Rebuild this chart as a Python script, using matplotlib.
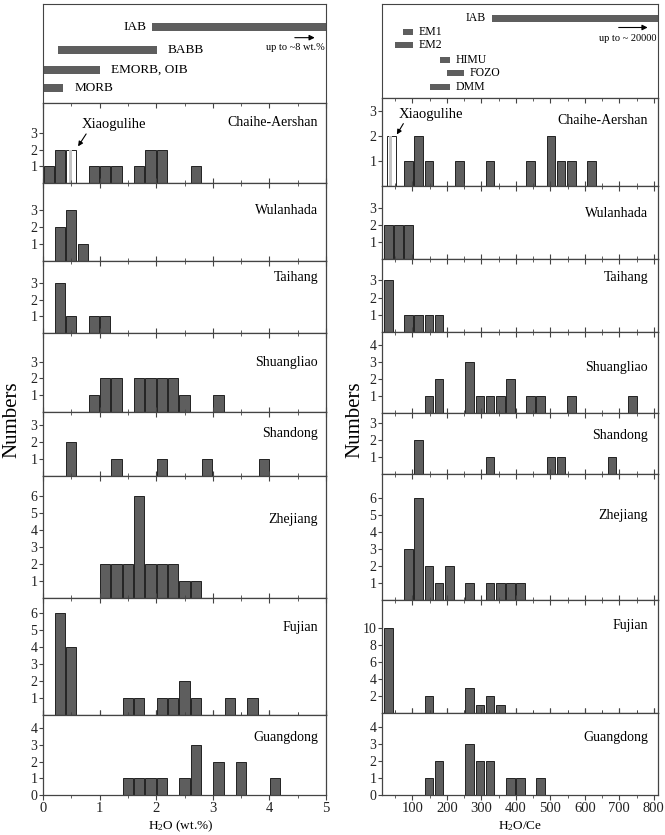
"""Histograms of H2O (wt.%) and H2O/Ce for basalts from NE to SE China."""

import matplotlib.pyplot as plt
from matplotlib.ticker import MultipleLocator

plt.rcParams['font.family'] = ['Liberation Serif', 'DejaVu Serif']
plt.rcParams['mathtext.fontset'] = 'custom'
plt.rcParams['mathtext.rm'] = 'Liberation Serif'
plt.rcParams['mathtext.it'] = 'Liberation Serif:italic'
plt.rcParams['axes.edgecolor'] = '#444444'
plt.rcParams['xtick.color'] = '#444444'
plt.rcParams['ytick.color'] = '#444444'
plt.rcParams['xtick.labelcolor'] = '#222222'
plt.rcParams['ytick.labelcolor'] = '#222222'

# ---- data -------------------------------------------------------------
regions = ['Chaihe-Aershan', 'Wulanhada', 'Taihang', 'Shuangliao',
           'Shandong', 'Zhejiang', 'Fujian', 'Guangdong']

# H2O (wt.%) histograms: bin centre -> count (bin width 0.2)
h2o_bins = [
    [0.1, 0.3, 0.9, 1.1, 1.3, 1.7, 1.9, 2.1, 2.7],
    [0.3, 0.5, 0.7],
    [0.3, 0.5, 0.9, 1.1],
    [0.9, 1.1, 1.3, 1.7, 1.9, 2.1, 2.3, 2.5, 3.1],
    [0.5, 1.3, 2.1, 2.9, 3.9],
    [1.1, 1.3, 1.5, 1.7, 1.9, 2.1, 2.3, 2.5, 2.7],
    [0.3, 0.5, 1.5, 1.7, 2.1, 2.3, 2.5, 2.7, 3.3, 3.7],
    [1.5, 1.7, 1.9, 2.1, 2.5, 2.7, 3.1, 3.5, 4.1],
]
h2o_counts = [
    [1, 2, 1, 1, 1, 1, 2, 2, 1],
    [2, 3, 1],
    [3, 1, 1, 1],
    [1, 2, 2, 2, 2, 2, 2, 1, 1],
    [2, 1, 1, 1, 1],
    [2, 2, 2, 6, 2, 2, 2, 1, 1],
    [6, 4, 1, 1, 1, 1, 2, 1, 1, 1],
    [1, 1, 1, 1, 1, 3, 2, 2, 1],
]

# H2O/Ce histograms: bin centre -> count (bin width ~30)
ce_bins = [
    [89, 118, 148, 236, 325, 443, 502, 531, 561, 620],
    [30, 59, 89],
    [30, 89, 118, 148, 177],
    [148, 177, 266, 296, 325, 355, 384, 443, 472, 561, 738],
    [118, 325, 502, 531, 679],
    [89, 118, 148, 177, 207, 266, 325, 355, 384, 414],
    [30, 148, 266, 296, 325, 355],
    [148, 177, 266, 296, 325, 384, 414, 472],
]
ce_counts = [
    [1, 2, 1, 1, 1, 1, 2, 1, 1, 1],
    [2, 2, 2],
    [3, 1, 1, 1, 1],
    [1, 2, 3, 1, 1, 1, 2, 1, 1, 1, 1],
    [2, 1, 1, 1, 1],
    [3, 6, 2, 1, 2, 1, 1, 1, 1, 1],
    [10, 2, 3, 1, 2, 1],
    [1, 2, 3, 2, 2, 1, 1, 1],
]

# Xiaogulihe samples (open bar) in the Chaihe-Aershan panel
xiao_h2o = (0.5, 2)
xiao_ce = (39, 2)

# y-axis ranges and ticks per panel
h2o_ymax = [4.8, 4.6, 4.3, 4.7, 3.8, 7.2, 6.9, 4.8]
ce_ymax = [3.5, 4.3, 4.25, 4.8, 3.6, 7.4, 13.3, 4.85]
h2o_yticks = [[1, 2, 3]] * 5 + [[1, 2, 3, 4, 5, 6]] * 2 + [[0, 1, 2, 3, 4]]
ce_yticks = [[1, 2, 3], [1, 2, 3], [1, 2, 3], [1, 2, 3, 4], [1, 2, 3],
             [1, 2, 3, 4, 5, 6], [2, 4, 6, 8, 10], [0, 1, 2, 3, 4]]

# reference ranges for the top panels
h2o_ref_names = ['IAB', 'BABB', 'EMORB, OIB', 'MORB']
h2o_ref_lo = [1.93, 0.27, 0.0, 0.0]
h2o_ref_hi = [8.0, 2.01, 1.0, 0.35]

ce_ref_names = ['IAB', 'EM1', 'EM2', 'HIMU', 'FOZO', 'DMM']
ce_ref_lo = [332, 72, 49, 180, 199, 150]
ce_ref_hi = [20000, 101, 101, 208, 250, 208]

# ---- layout (pixels) --------------------------------------------------
W, H = 665, 835
fig = plt.figure(figsize=(W / 100, H / 100), dpi=100)

left_x = (43, 326)
right_x = (382, 658)
left_rows = [4, 103, 183, 261, 333, 412, 476, 598, 715, 795]
right_rows = [4, 98, 186, 259, 332, 413, 474, 600, 713, 795]
left_lab_dy = [19, 28, 16, 30, 22, 43, 29, 23]
right_lab_dy = [22, 27, 19, 35, 23, 41, 26, 25]

BAR = '#5e5e5e'


def add_ax(xs, top, bot):
    return fig.add_axes([xs[0] / W, 1 - bot / H, (xs[1] - xs[0]) / W, (bot - top) / H])


def px(x, y):
    return x / W, 1 - y / H


def style_hist(ax, last):
    ax.tick_params(axis='x', which='both', direction='in', top=True, bottom=True,
                   labelbottom=last)
    ax.tick_params(axis='x', which='major', length=3.5, width=0.8)
    ax.tick_params(axis='x', which='minor', length=2, width=0.6)
    ax.tick_params(axis='y', direction='out', length=3, width=0.8, labelsize=10, pad=1)
    if last:
        ax.tick_params(axis='x', which='both', bottom=True, direction='out',
                       labelsize=10.5, pad=1.5)
    for s in ax.spines.values():
        s.set_linewidth(0.9)


# ---- left column: H2O -------------------------------------------------
ax = add_ax(left_x, left_rows[0], left_rows[1])
ax.set_xlim(0, 5)
ax.set_ylim(0, 1)
ref_y = [0.77, 0.535, 0.333, 0.15]
for name, lo, hi, y in zip(h2o_ref_names, h2o_ref_lo, h2o_ref_hi, ref_y):
    ax.barh(y, hi - lo, left=lo, height=0.085, color=BAR)
    if name == 'IAB':
        ax.text(lo - 0.1, y, name, ha='right', va='center', fontsize=9.5)
    else:
        ax.text(hi + 0.2, y, name, ha='left', va='center', fontsize=9.5)
ax.annotate('', xy=(4.85, 0.66), xytext=(4.4, 0.66),
            arrowprops=dict(arrowstyle='-|>', color='black', lw=0.8, mutation_scale=8))
ax.text(4.97, 0.56, 'up to ~8 wt.%', ha='right', va='center', fontsize=7.5)
ax.set_xticks([])
ax.set_yticks([])

for i, name in enumerate(regions):
    ax = add_ax(left_x, left_rows[i + 1], left_rows[i + 2])
    ax.bar(h2o_bins[i], h2o_counts[i], width=0.18, color=BAR, edgecolor='#222222', linewidth=0.7)
    if i == 0:
        ax.bar(xiao_h2o[0], xiao_h2o[1], width=0.18, color='white', edgecolor='#222222', linewidth=0.7)
        ax.bar(xiao_h2o[0] - 0.02, xiao_h2o[1], width=0.05, color='#c4c4c4', linewidth=0)
        ax.annotate('Xiaogulihe', xy=(0.62, 2.2), xytext=(0.68, 3.5), fontsize=10.5,
                    ha='left', va='center',
                    arrowprops=dict(arrowstyle='-|>', color='black', lw=0.8, mutation_scale=7,
                                    shrinkA=0, shrinkB=0, relpos=(0.1, 0)))
    ax.set_xlim(0, 5)
    ax.set_ylim(0, h2o_ymax[i])
    ax.set_yticks(h2o_yticks[i])
    ax.xaxis.set_major_locator(MultipleLocator(1))
    ax.xaxis.set_minor_locator(MultipleLocator(0.5))
    style_hist(ax, i == len(regions) - 1)
    fig.text(*px(318, left_rows[i + 1] + left_lab_dy[i]), name, ha='right', va='center',
             fontsize=10)

fig.text(*px(181, 826), 'H$_2$O (wt.%)', ha='center', va='center', fontsize=9.5)
fig.text(*px(12, 420), 'Numbers', ha='center', va='center', rotation=90, fontsize=15)

# ---- right column: H2O/Ce ---------------------------------------------
ax = add_ax(right_x, right_rows[0], right_rows[1])
ax.set_xlim(12, 812)
ax.set_ylim(0, 1)
ref_y = [0.846, 0.70, 0.564, 0.404, 0.266, 0.117]
for name, lo, hi, y in zip(ce_ref_names, ce_ref_lo, ce_ref_hi, ref_y):
    ax.barh(y, hi - lo, left=lo, height=0.075 if name == 'IAB' else 0.065, color=BAR)
    if name == 'IAB':
        ax.text(lo - 18, y, name, ha='right', va='center', fontsize=8.5)
    else:
        ax.text(hi + 16, y, name, ha='left', va='center', fontsize=8.5)
ax.annotate('', xy=(790, 0.75), xytext=(690, 0.75),
            arrowprops=dict(arrowstyle='-|>', color='black', lw=0.8, mutation_scale=8))
ax.text(808, 0.63, 'up to ~ 20000', ha='right', va='center', fontsize=7.5)
ax.set_xticks([])
ax.set_yticks([])

for i, name in enumerate(regions):
    ax = add_ax(right_x, right_rows[i + 1], right_rows[i + 2])
    ax.bar(ce_bins[i], ce_counts[i], width=25, color=BAR, edgecolor='#222222', linewidth=0.7)
    if i == 0:
        ax.bar(xiao_ce[0], xiao_ce[1], width=27, color='white', edgecolor='#222222', linewidth=0.7)
        ax.bar(xiao_ce[0] - 3, xiao_ce[1], width=8, color='#c4c4c4', linewidth=0)
        ax.annotate('Xiaogulihe', xy=(55, 2.05), xytext=(60, 2.85), fontsize=10.5,
                    ha='left', va='center',
                    arrowprops=dict(arrowstyle='-|>', color='black', lw=0.8, mutation_scale=7,
                                    shrinkA=0, shrinkB=0, relpos=(0.1, 0)))
    ax.set_xlim(12, 812)
    ax.set_ylim(0, ce_ymax[i])
    ax.set_yticks(ce_yticks[i])
    ax.xaxis.set_major_locator(MultipleLocator(100))
    ax.xaxis.set_minor_locator(MultipleLocator(50))
    style_hist(ax, i == len(regions) - 1)
    fig.text(*px(648, right_rows[i + 1] + right_lab_dy[i]), name, ha='right', va='center',
             fontsize=10)

fig.text(*px(520, 826), 'H$_2$O/Ce', ha='center', va='center', fontsize=9.5)
fig.text(*px(355, 420), 'Numbers', ha='center', va='center', rotation=90, fontsize=15)

fig.savefig('out.png', dpi=100)
